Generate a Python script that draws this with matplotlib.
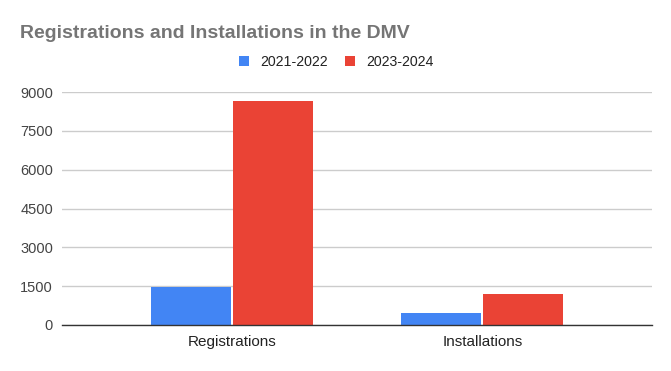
import matplotlib
matplotlib.use("Agg")
import matplotlib.pyplot as plt
import numpy as np

categories = ["Registrations", "Installations"]
series_names = ["2021-2022", "2023-2024"]
values_2021_2022 = [1470, 480]
values_2023_2024 = [8660, 1190]
yticks = [0, 1500, 3000, 4500, 6000, 7500, 9000]

colors = ["#4285F4", "#EA4335"]

plt.rcParams['font.family'] = ['Liberation Sans', 'DejaVu Sans']

W, H = 671, 371
fig = plt.figure(figsize=(W / 100, H / 100), dpi=100)
ax_left, ax_right = 62, 652
ax_top, ax_bottom = 92, 325
ax = fig.add_axes([ax_left / W, (H - ax_bottom) / H, (ax_right - ax_left) / W, (ax_bottom - ax_top) / H])

x = np.arange(len(categories))
bw = 80 / 251
off = 41 / 251
ax.bar(x - off, values_2021_2022, width=bw, color=colors[0], label=series_names[0], zorder=3)
ax.bar(x + off, values_2023_2024, width=bw, color=colors[1], label=series_names[1], zorder=3)

ax.set_xlim(-170 / 251, 1 + 170 / 251)
ax.set_ylim(0, 9000)
ax.set_yticks(yticks)
ax.set_yticklabels([str(v) for v in yticks], fontsize=10.5, color="#444444")
ax.set_xticks(x)
ax.set_xticklabels(categories, fontsize=11, color="#222222")
ax.tick_params(axis='both', length=0)
ax.tick_params(axis='y', pad=6.5)
ax.tick_params(axis='x', pad=7)
ax.grid(axis='y', color="#cccccc", linewidth=1, zorder=0)
for s in ["top", "right", "left"]:
    ax.spines[s].set_visible(False)
ax.spines["bottom"].set_color("#333333")
ax.spines["bottom"].set_linewidth(1)
ax.spines["bottom"].set_zorder(4)

fig.text(20 / W, 1 - 38 / H, "Registrations and Installations in the DMV", fontsize=14,
         fontweight='bold', color="#757575", ha='left', va='baseline')

leg = fig.legend(loc='center', bbox_to_anchor=(336 / W, 1 - 62 / H), ncol=2, frameon=False,
                 fontsize=10.2, handlelength=0.7, handleheight=0.8, handletextpad=0.8,
                 columnspacing=1.2, borderpad=0)
for t in leg.get_texts():
    t.set_color("#222222")

fig.savefig("out.png", dpi=100)
